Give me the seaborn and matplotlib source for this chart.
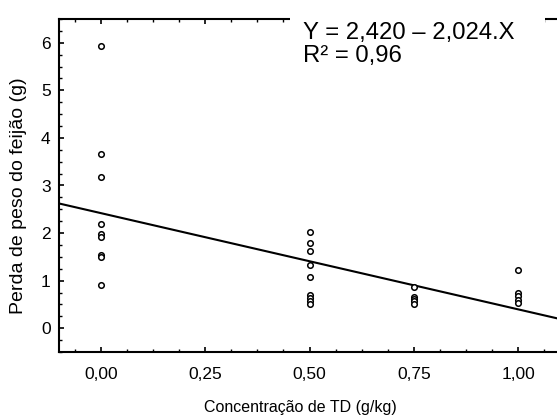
import matplotlib
matplotlib.use("Agg")
import matplotlib.pyplot as plt
from matplotlib.patches import Rectangle
from matplotlib.ticker import MultipleLocator
import seaborn as sns
import pandas as pd

# ---- data ----
conc_0 = [5.94, 3.67, 3.18, 2.20, 1.98, 1.92, 1.53, 1.49, 0.90]
conc_050 = [2.03, 1.80, 1.62, 1.32, 1.08, 0.70, 0.64, 0.57, 0.50]
conc_075 = [0.86, 0.65, 0.61, 0.57, 0.50]
conc_100 = [1.22, 0.74, 0.67, 0.60, 0.53]
concentrations = [0.00, 0.50, 0.75, 1.00]
intercept = 2.420
slope = -2.024
x_ticks = [0.00, 0.25, 0.50, 0.75, 1.00]
x_tick_labels = ["0,00", "0,25", "0,50", "0,75", "1,00"]
y_ticks = [0, 1, 2, 3, 4, 5, 6]
eq_line1 = "Y = 2,420 \u2013 2,024.X"
eq_line2 = "R\u00b2 = 0,96"
x_label = "Concentração de TD (g/kg)"
y_label = "Perda de peso do feijão (g)"

rows = []
for c, vals in zip(concentrations, [conc_0, conc_050, conc_075, conc_100]):
    for v in vals:
        rows.append({"x": c, "y": v})
df = pd.DataFrame(rows)

sns.set_theme(style="white")
plt.rcParams["font.family"] = ["Liberation Sans", "DejaVu Sans"]

W, H = 557, 415
fig = plt.figure(figsize=(W / 100, H / 100), dpi=100)
ax = fig.add_axes([59 / W, 1 - 352 / H, (560 - 59) / W, (352 - 19) / H])

xlim = (-0.1, 1.1)
ylim = (-0.5, 6.5)

line_df = pd.DataFrame({"x": list(xlim)})
line_df["y"] = intercept + slope * line_df["x"]
sns.lineplot(data=line_df, x="x", y="y", ax=ax, color="black", linewidth=1.5,
             zorder=2)

sns.scatterplot(data=df, x="x", y="y", ax=ax, marker="o", s=16,
                facecolor="white", edgecolor="black", linewidth=1.1, zorder=3)

ax.set_xlim(*xlim)
ax.set_ylim(*ylim)
ax.set_xticks(x_ticks)
ax.set_xticklabels(x_tick_labels)
ax.set_yticks(y_ticks)
ax.xaxis.set_minor_locator(MultipleLocator(0.0625))
ax.yaxis.set_minor_locator(MultipleLocator(0.25))

for side in ["left", "bottom", "top"]:
    ax.spines[side].set_visible(True)
    ax.spines[side].set_color("black")
    ax.spines[side].set_linewidth(1.5)
ax.spines["right"].set_visible(False)

ax.tick_params(axis="both", which="both", direction="in", color="black",
               labelsize=12.5, labelcolor="black")
ax.tick_params(axis="x", which="both", top=True, bottom=True)
ax.tick_params(axis="y", which="both", left=True, right=False)
ax.tick_params(which="major", length=3.5, width=1.2)
ax.tick_params(which="minor", length=2.5, width=1.0)
ax.tick_params(axis="x", which="major", pad=11)
ax.tick_params(axis="y", which="major", pad=6)

ax.set_xlabel(x_label, fontsize=11.5, color="black")
ax.set_ylabel(y_label, fontsize=14, color="black")
ax.xaxis.set_label_coords(0.482, -0.143)
ax.yaxis.set_label_coords(-0.064, 0.47)
ax.grid(False)

# white box behind the equation (hides part of the top frame)
fig.patches.append(Rectangle((290 / W, 1 - 68 / H), (545 - 290) / W, 68 / H,
                             transform=fig.transFigure, facecolor="white",
                             edgecolor="none", zorder=5))
fig.text(303 / W, 1 - 39 / H, eq_line1, fontsize=17.2, va="baseline",
         ha="left", color="black", zorder=6)
fig.text(303 / W, 1 - 62 / H, eq_line2, fontsize=17.2, va="baseline",
         ha="left", color="black", zorder=6)

fig.savefig("out.png", dpi=100)
